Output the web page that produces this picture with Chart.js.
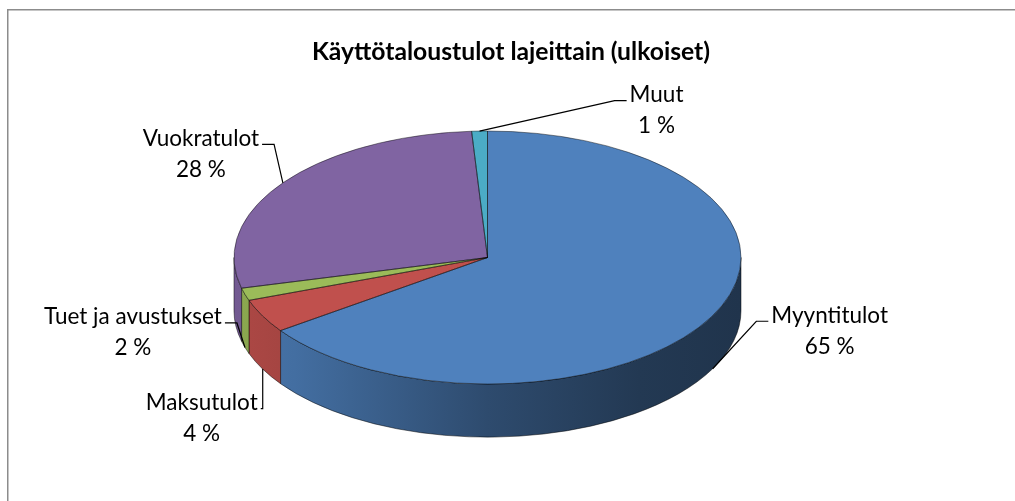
<!DOCTYPE html>
<html><head><meta charset="utf-8">
<script src="https://cdn.jsdelivr.net/npm/chart.js@4/dist/chart.umd.min.js"></script>
<style>html,body{margin:0;padding:0;background:#fff;}#wrap{position:relative;width:1015px;height:501px;overflow:hidden}</style>
</head><body><div id="wrap"><canvas id="c" width="1015" height="501"></canvas></div>
<script>
const TITLE = 'Käyttötaloustulot lajeittain (ulkoiset)';
const categories = ['Myyntitulot', 'Maksutulot', 'Tuet ja avustukset', 'Vuokratulot', 'Muut'];
const shares = [65.2, 4.3, 1.6, 27.9, 1.0];
const colors = ['#4F81BD', '#C0504D', '#9BBB59', '#8064A2', '#4BACC6'];
// label placement relative to each leader's anchor point (layout only)
const labelOffsets = [[117, -38], [-61, 49], [-112, -15], [-82, -29], [177, -21]];

const ASPECT = 2.004;      // horizontal stretch of the pie ellipse
const DEPTH_RATIO = 0.42;  // side wall depth relative to vertical radius
const FONT = '22.5px Lato';
const TITLE_FONT = 'bold 24.7px Lato';
const LINE_GAP = 31;

function shade(hex, f) {
  const n = parseInt(hex.slice(1), 16);
  const r = (n >> 16) & 255, g = (n >> 8) & 255, b = n & 255;
  return 'rgb(' + Math.round(r * f) + ',' + Math.round(g * f) + ',' + Math.round(b * f) + ')';
}
function geom(chart) {
  const arcs = chart.getDatasetMeta(0).data;
  const a0 = arcs[0];
  const ry = a0.outerRadius;
  return { arcs, cx: a0.x, cy: a0.y, ry, rx: ry * ASPECT, d: ry * DEPTH_RATIO };
}

const pie3d = {
  id: 'pie3d',
  beforeDraw(chart) {
    const ctx = chart.ctx;
    ctx.save();
    ctx.strokeStyle = '#8c8c8c';
    ctx.lineWidth = 1.5;
    ctx.beginPath();
    ctx.moveTo(7.75, chart.height);
    ctx.lineTo(7.75, 9.75);
    ctx.lineTo(chart.width, 9.75);
    ctx.stroke();
    ctx.fillStyle = '#000';
    ctx.font = TITLE_FONT;
    ctx.textAlign = 'center';
    ctx.textBaseline = 'middle';
    ctx.fillText(TITLE, 511, 52);
    ctx.restore();
  },
  beforeDatasetsDraw(chart) {
    const ctx = chart.ctx;
    const { arcs, cx, cy, rx, ry, d } = geom(chart);
    ctx.save();
    arcs.forEach((arc, i) => {
      const s = Math.max(arc.startAngle, 0), e = Math.min(arc.endAngle, Math.PI);
      if (e <= s) return;
      const g = ctx.createLinearGradient(cx - rx, 0, cx + rx, 0);
      g.addColorStop(0, shade(colors[i], 0.9));
      g.addColorStop(0.12, shade(colors[i], 0.85));
      g.addColorStop(0.5, shade(colors[i], 0.58));
      g.addColorStop(0.8, shade(colors[i], 0.44));
      g.addColorStop(1, shade(colors[i], 0.4));
      ctx.beginPath();
      ctx.ellipse(cx, cy, rx, ry, 0, s, e);
      ctx.ellipse(cx, cy + d, rx, ry, 0, e, s, true);
      ctx.closePath();
      ctx.fillStyle = g;
      ctx.fill();
      ctx.strokeStyle = 'rgba(0,0,0,0.6)';
      ctx.lineWidth = 0.8;
      ctx.stroke();
    });
    ctx.restore();
    ctx.save();
    ctx.translate(cx, cy);
    ctx.scale(ASPECT, 1);
    ctx.translate(-cx, -cy);
  },
  afterDatasetsDraw(chart) {
    const ctx = chart.ctx;
    ctx.restore();
    const { arcs, cx, cy, rx, ry, d } = geom(chart);
    ctx.save();
    ctx.strokeStyle = 'rgba(0,0,0,0.55)';
    ctx.lineWidth = 0.8;
    arcs.forEach((arc) => {
      ctx.beginPath();
      ctx.moveTo(cx, cy);
      ctx.lineTo(cx + rx * Math.cos(arc.startAngle), cy + ry * Math.sin(arc.startAngle));
      ctx.ellipse(cx, cy, rx, ry, 0, arc.startAngle, arc.endAngle);
      ctx.closePath();
      ctx.stroke();
    });
    const total = shares.reduce((a, b) => a + b, 0);
    ctx.font = FONT;
    ctx.textAlign = 'center';
    ctx.textBaseline = 'middle';
    arcs.forEach((arc, i) => {
      const m = (arc.startAngle + arc.endAngle) / 2;
      const ax = cx + rx * Math.cos(m);
      let ay = cy + ry * Math.sin(m);
      if (Math.sin(m) > 0) ay += d;
      const lx = ax + labelOffsets[i][0];
      const ly = ay + labelOffsets[i][1];
      const l1 = categories[i];
      const l2 = Math.round(shares[i] / total * 100) + ' %';
      const w2 = Math.max(ctx.measureText(l1).width, ctx.measureText(l2).width) / 2 + 3;
      const y1 = ly - LINE_GAP / 2, y2 = ly + LINE_GAP / 2;
      const attY = y1 + 6;
      let attX, elbX;
      if (ax > lx) { attX = lx + w2; elbX = attX + Math.min(12, Math.max(0, ax - attX)); }
      else { attX = lx - w2; elbX = attX - Math.min(12, Math.max(0, attX - ax)); }
      ctx.strokeStyle = '#000';
      ctx.lineWidth = 1.2;
      ctx.beginPath();
      ctx.moveTo(ax, ay);
      ctx.lineTo(elbX, attY);
      ctx.lineTo(attX, attY);
      ctx.stroke();
      ctx.fillStyle = '#000';
      ctx.fillText(l1, lx, y1);
      ctx.fillText(l2, lx, y2);
    });
    ctx.restore();
  }
};

new Chart(document.getElementById('c'), {
  type: 'pie',
  data: {
    labels: categories,
    datasets: [{
      data: shares,
      backgroundColor: colors,
      borderWidth: 0,
      hoverOffset: 0,
      offset: 0
    }]
  },
  options: {
    responsive: false,
    animation: false,
    events: [],
    rotation: 0,
    layout: { padding: { left: 0, right: 40, top: 131, bottom: 117 } },
    plugins: { legend: { display: false }, title: { display: false }, tooltip: { enabled: false } }
  },
  plugins: [pie3d]
});
</script>
</body></html>
